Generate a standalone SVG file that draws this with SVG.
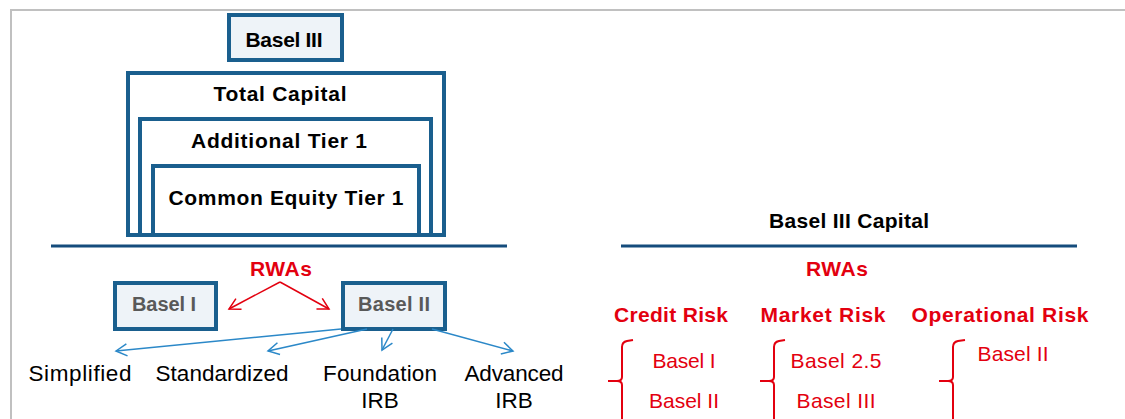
<svg xmlns="http://www.w3.org/2000/svg" width="1125" height="419" viewBox="0 0 1125 419">
<defs>
<style>
.box{fill:#eef3f8;stroke:#1a5f8e;stroke-width:4}
.frame{fill:#ffffff;stroke:#1a5f8e;stroke-width:4}
.b{font-family:"Liberation Sans",Arial,sans-serif;font-weight:bold;font-size:21px;fill:#000;text-anchor:middle}
.g{font-family:"Liberation Sans",Arial,sans-serif;font-weight:bold;font-size:20px;fill:#595959;text-anchor:middle}
.rb{font-family:"Liberation Sans",Arial,sans-serif;font-weight:bold;font-size:21px;fill:#e3000f;text-anchor:middle}
.rn{font-family:"Liberation Sans",Arial,sans-serif;font-size:21px;fill:#e3000f;text-anchor:middle}
.n{font-family:"Liberation Sans",Arial,sans-serif;font-size:22.5px;fill:#000;text-anchor:middle}
.rule{stroke:#154c7c;stroke-width:3}
.red{stroke:#e3000f;stroke-width:1.5;fill:none}
.blue{stroke:#2b88c8;stroke-width:1.5;fill:none}
.brace{stroke:#e3000f;stroke-width:2;fill:none}
</style>
<marker id="ar" markerUnits="userSpaceOnUse" markerWidth="14" markerHeight="14" refX="12" refY="7" orient="auto">
<path d="M1,1 L12,7 L1,13" fill="none" stroke="#e3000f" stroke-width="1.5"/>
</marker>
<marker id="ab" markerUnits="userSpaceOnUse" markerWidth="14" markerHeight="14" refX="12" refY="7" orient="auto">
<path d="M1,1 L12,7 L1,13" fill="none" stroke="#2b88c8" stroke-width="1.5"/>
</marker>
</defs>
<rect width="1125" height="419" fill="#ffffff"/>
<path d="M11,419 L11,10 L1125,10" fill="none" stroke="#c0c0c0" stroke-width="2"/>

<g id="basel3"><rect class="box" x="229" y="15" width="113" height="45"/><text class="b" x="284" y="47" font-size="20" textLength="77">Basel III</text></g>
<g id="total-capital"><rect class="frame" x="128" y="73" width="316" height="162"/><text class="b" x="280" y="101" textLength="133">Total Capital</text></g>
<g id="at1"><rect class="frame" x="140" y="119" width="291" height="116"/><text class="b" x="279" y="148" textLength="176">Additional Tier 1</text></g>
<g id="cet1"><rect class="frame" x="153" y="166" width="266" height="69"/><text class="b" x="286" y="205" textLength="235">Common Equity Tier 1</text></g>

<g id="rules">
<line class="rule" x1="51" y1="246" x2="507" y2="246"/>
<line class="rule" x1="621" y1="246" x2="1077" y2="246"/>
</g>

<g id="rwas-left"><text class="rb" x="281" y="276" textLength="62">RWAs</text></g>
<g id="basel1"><rect class="box" x="115" y="283" width="101" height="46"/><text class="g" x="164" y="311" textLength="64">Basel I</text></g>
<g id="basel2"><rect class="box" x="343" y="283" width="102" height="46"/><text class="g" x="394" y="311" textLength="72">Basel II</text></g>

<g id="connectors">
<line class="red" x1="280" y1="282" x2="229" y2="309" marker-end="url(#ar)"/>
<line class="red" x1="280" y1="282" x2="329" y2="309" marker-end="url(#ar)"/>
<line class="blue" x1="341" y1="329" x2="116" y2="351" marker-end="url(#ab)"/>
<line class="blue" x1="367" y1="329" x2="268" y2="351" marker-end="url(#ab)"/>
<line class="blue" x1="393" y1="329" x2="382" y2="350" marker-end="url(#ab)"/>
<line class="blue" x1="432" y1="329" x2="513" y2="351" marker-end="url(#ab)"/>
</g>

<g id="simplified"><text class="n" x="80" y="381" textLength="103">Simplified</text></g>
<g id="standardized"><text class="n" x="222" y="381" textLength="133">Standardized</text></g>
<g id="foundation"><text class="n" x="380" y="381" textLength="114">Foundation</text><text class="n" x="380" y="408">IRB</text></g>
<g id="advanced"><text class="n" x="514" y="381" textLength="99">Advanced</text><text class="n" x="514" y="408">IRB</text></g>

<g id="b3capital"><text class="b" x="849" y="228" textLength="160">Basel III Capital</text></g>
<g id="rwas-right"><text class="rb" x="837" y="276" textLength="62">RWAs</text></g>

<g id="credit"><text class="rb" x="671" y="322" textLength="114">Credit Risk</text>
<path class="brace" d="M633,340 L627,341 Q622,342 622,347 L622,377 Q622,381 617,381 L608,381 M617,381 Q622,381 622,385 L622,419"/>
<text class="rn" x="684" y="368" textLength="63">Basel I</text><text class="rn" x="684" y="408" textLength="70">Basel II</text></g>

<g id="market"><text class="rb" x="823" y="322" textLength="125">Market Risk</text>
<path class="brace" d="M785,340 L779,341 Q774,342 774,347 L774,377 Q774,381 769,381 L760,381 M769,381 Q774,381 774,385 L774,419"/>
<text class="rn" x="836" y="368" textLength="91">Basel 2.5</text><text class="rn" x="836" y="408" textLength="79">Basel III</text></g>

<g id="operational"><text class="rb" x="1000" y="322" textLength="177">Operational Risk</text>
<path class="brace" d="M965,340 L958,341 Q953,342 953,347 L953,377 Q953,381 948,381 L939,381 M948,381 Q953,381 953,385 L953,419"/>
<text class="rn" x="1013" y="361" textLength="71">Basel II</text></g>
</svg>
